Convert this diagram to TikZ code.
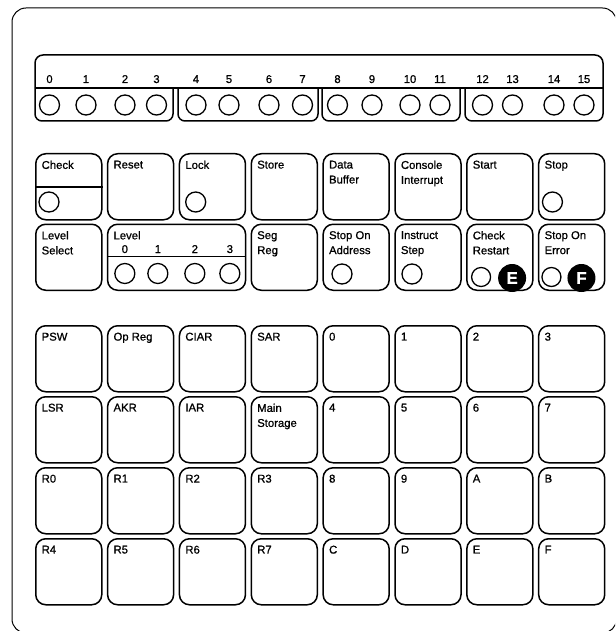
\documentclass[tikz,border=0pt]{standalone}
\usepackage{fontspec}
\setmainfont{Liberation Sans}[FakeBold=0.9]
\usetikzlibrary{calc}
\newcommand\keyfont{\fontsize{11.3}{15}\selectfont}

\begin{document}
\begin{tikzpicture}[x=1pt,y=-1pt,line join=round,
  key/.style={draw, rounded corners=10pt, line width=1.5pt, minimum width=66pt, minimum height=66pt, anchor=north west, inner sep=0pt},
  keytext/.style={anchor=north west, inner sep=0pt, align=left, font=\keyfont},
  lamp/.style={draw, circle, line width=1.3pt, minimum size=20pt, inner sep=0pt},
  blob/.style={circle, fill=black, minimum size=28pt, inner sep=0pt, text=white, font=\fontsize{17}{17}\selectfont\bfseries},
  digit/.style={anchor=base, inner sep=0pt, font=\keyfont}]
\useasboundingbox (0,0) rectangle (615,631);
\clip (0,0) rectangle (615,631);
% console outline
\draw[line width=1pt, rounded corners=14pt] (12,8) rectangle (616.5,633);

% lamp strip, bits 0-15
\draw[line width=1.5pt, rounded corners=8pt] (35,88) -- (35,55) -- (603,55) -- (603,88);
\draw[line width=1.5pt] (35,88) -- (603,88);
\foreach \xa/\xb in {35/173, 178/318, 322/460, 465/603}
  \draw[line width=1.5pt, rounded corners=7pt] (\xa,88) -- (\xa,121) -- (\xb,121) -- (\xb,88);
\foreach \xc [count=\bit from 0] in {49.5,86,125,156.5,196,229,269,302.5,337.5,372,410,440,482.5,512.5,554,584} {
  \node[lamp] (bit\bit) at (\xc,105) {};
  \node[digit] at ([yshift=22pt]bit\bit.center) {\bit};
}

% first row of keys
\foreach \name/\txt [count=\c from 0] in {check/Check, reset/Reset, lock/Lock, store/Store, databuf/{Data\\Buffer}, console/{Console\\Interrupt}, start/Start, stop/Stop} {
  \node[key] (\name) at ({35+71.85*\c},153) {};
  \node[keytext] at ([shift={(6.5,7.5)}]\name.north west) {\txt};
}
\draw[line width=1.5pt] ([yshift=-34pt]check.north west) -- ([yshift=-34pt]check.north east);
\node[lamp] (checklamp) at ([shift={(14,49)}]check.north west) {};
\node[lamp] (locklamp) at ([shift={(17,49)}]lock.north west) {};
\node[lamp] (stoplamp) at ([shift={(14.5,49)}]stop.north west) {};

% second row of keys
\foreach \name/\txt/\c in {lvlsel/{Level\\Select}/0, segreg/{Seg\\Reg}/3, stopaddr/{Stop On\\Address}/4, instep/{Instruct\\Step}/5, chkrst/{Check\\Restart}/6, stoperr/{Stop On\\Error}/7} {
  \node[key] (\name) at ({35+71.85*\c},223.5) {};
  \node[keytext] at ([shift={(6.5,7.5)}]\name.north west) {\txt};
}
\node[key, minimum width=138pt] (level) at (106.85,223.5) {};
\node[keytext] at ([shift={(6.5,7.5)}]level.north west) {Level};
\draw[line width=1.5pt] ([yshift=-33pt]level.north west) -- ([yshift=-33pt]level.north east);
\foreach \xo [count=\l from 0] in {18,51,88,123} {
  \node[lamp] (lvl\l) at ([shift={(\xo,50)}]level.north west) {};
  \node[digit] at ([yshift=20.5pt]lvl\l.center) {\l};
}
\node[lamp] (addrlamp) at ([shift={(19.6,50.5)}]stopaddr.north west) {};
\node[lamp] (steplamp) at ([shift={(17.75,50.5)}]instep.north west) {};
\node[lamp, minimum size=19pt] (rstlamp) at ([shift={(15,53.5)}]chkrst.north west) {};
\node[blob] (markE) at ([shift={(46,54.5)}]chkrst.north west) {E};
\node[lamp, minimum size=19pt] (errlamp) at ([shift={(13.5,53.5)}]stoperr.north west) {};
\node[blob] (markF) at ([shift={(43.5,54.5)}]stoperr.north west) {F};

% display and data keys
\foreach \ytop/\row in {325/{psw/PSW, opreg/Op Reg, ciar/CIAR, sar/SAR, hex0/0, hex1/1, hex2/2, hex3/3},
                        396/{lsr/LSR, akr/AKR, iar/IAR, mainstor/{Main\\Storage}, hex4/4, hex5/5, hex6/6, hex7/7},
                        467/{r0/R0, r1/R1, r2/R2, r3/R3, hex8/8, hex9/9, hexA/A, hexB/B},
                        538/{r4/R4, r5/R5, r6/R6, r7/R7, hexC/C, hexD/D, hexE/E, hexF/F}}
  \foreach \name/\txt [count=\c from 0] in \row {
    \node[key] (\name) at ({35+71.85*\c},\ytop) {};
    \node[keytext] at ([shift={(6.5,7.5)}]\name.north west) {\txt};
  }

\end{tikzpicture}
\end{document}
